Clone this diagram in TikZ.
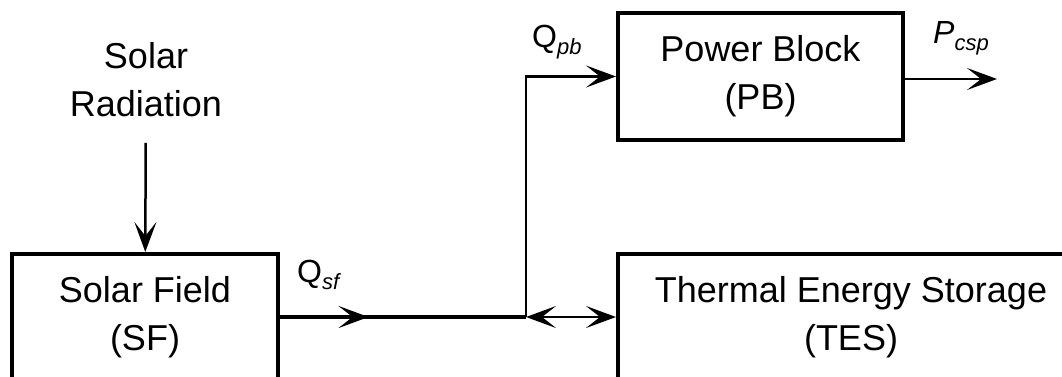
\documentclass[tikz,border=0pt]{standalone}
\usepackage{fontspec}
\setmainfont{Liberation Sans}
\usetikzlibrary{arrows.meta,decorations.markings}
\begin{document}
\begin{tikzpicture}[x=1pt,y=1pt,
  >={Stealth[length=30pt,width=22pt,inset=14pt]},
  box/.style={draw, line width=4pt, inner sep=0pt, align=center, font=\fontsize{36}{48}\selectfont},
  plain/.style={inner sep=0pt, align=center, font=\fontsize{36}{48}\selectfont},
  conn/.style={line width=2.5pt},
  thickconn/.style={line width=3.5pt},
  thinconn/.style={line width=2pt},
  tip/.style={->},
  dtip/.style={<->},
  midtip/.style={postaction={decorate}, decoration={markings, mark=at position #1 with {\arrow{>}}}},
  lab/.style={anchor=base west, inner sep=0pt, font=\fontsize{32}{32}\selectfont},
  sub/.style={font=\fontsize{22}{22}\selectfont\itshape}]
\useasboundingbox (0,0) rectangle (1062,376);
\clip (0,0) rectangle (1062,376);
% boxes
\node[box, minimum width=266pt, minimum height=126pt] (sf) at (145,59) {Solar Field\\(SF)};
\node[box, minimum width=285pt, minimum height=127pt] (pb) at (760.5,299.5) {Power Block\\(PB)};
\node[box, minimum width=466pt, minimum height=126pt] (tes) at (851,59) {Thermal Energy Storage\\(TES)};
\node[plain, anchor=north] (rad) at (146,334) {Solar\\Radiation};
% coordinates
\coordinate (J) at (526,59);
\coordinate (pout) at (997,297);
% connectors
\draw[conn,tip,shorten <=26pt] (rad) -- (sf);
\draw[thickconn,midtip=0.36] (sf.east) -- (J);
\draw[conn,dtip] (J) -- (tes.west);
\draw[thinconn] (J) -- (J |- pb.west);
\draw[conn,tip] ([xshift=-1pt]J |- pb.west) -- (pb.west);
\draw[conn,tip] (pb.east |- pout) -- (pout);
% labels
\node[lab] (qsf) at (297,94) {Q\raisebox{-7pt}{\fontsize{22}{22}\selectfont\itshape sf}};
\node[lab] (qpb) at (532,329) {Q\raisebox{-7pt}{\fontsize{22}{22}\selectfont\itshape pb}};
\node[lab] (pcsp) at (933,333) {\itshape P\raisebox{-7pt}{\fontsize{22}{22}\selectfont\itshape csp}};
\end{tikzpicture}
\end{document}
